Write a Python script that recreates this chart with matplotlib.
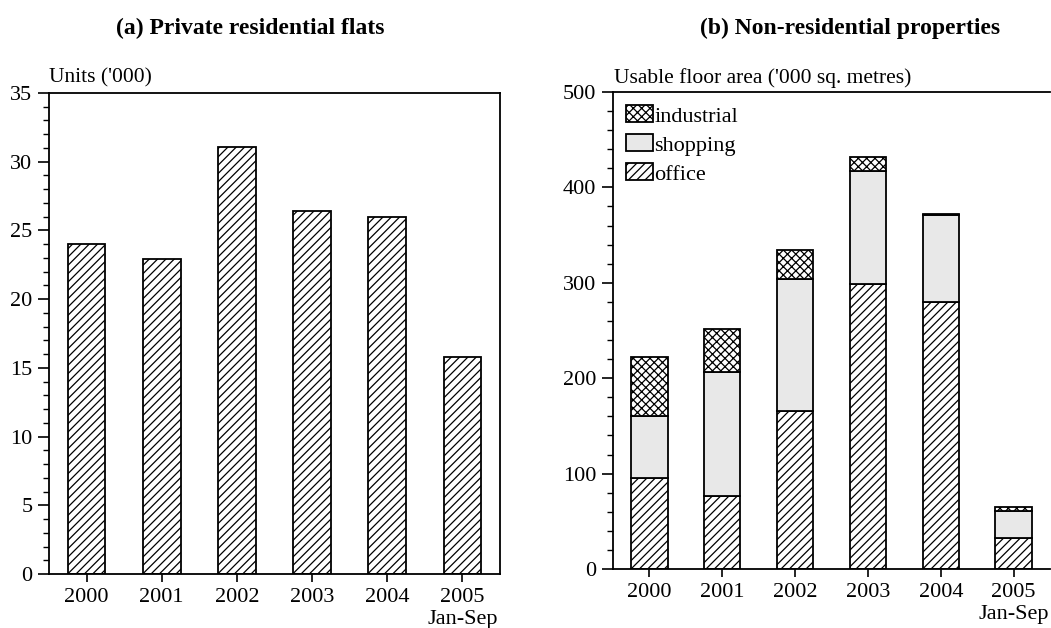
import numpy as np
import matplotlib
matplotlib.use("Agg")
import matplotlib.pyplot as plt
from matplotlib.ticker import MultipleLocator

plt.rcParams["font.family"] = ["Liberation Serif", "DejaVu Serif"]
plt.rcParams["hatch.linewidth"] = 0.9

years = ["2000", "2001", "2002", "2003", "2004", "2005\nJan-Sep"]
flats = [24.0, 22.9, 31.1, 26.4, 26.0, 15.8]
office = [95, 76, 166, 299, 280, 32]
shopping = [65, 131, 138, 118, 91, 29]
industrial = [62, 45, 30, 15, 1, 4]

fig = plt.figure(figsize=(10.51, 6.28), dpi=100)
axA = fig.add_axes([49 / 1051, 1 - 574 / 628, 451 / 1051, 481 / 628])
axB = fig.add_axes([613 / 1051, 1 - 569 / 628, 437 / 1051, 477 / 628])

x = np.arange(len(years))
lw = 1.3

# (a) flats
axA.bar(x, flats, width=0.5, facecolor="white", edgecolor="black",
        hatch="////", linewidth=lw)
axA.set_ylim(0, 35)
axA.yaxis.set_major_locator(MultipleLocator(5))
axA.yaxis.set_minor_locator(MultipleLocator(1))

# (b) non-residential
bottom2 = np.array(office) + np.array(shopping)
b_off = axB.bar(x, office, width=0.5, facecolor="white", edgecolor="black",
                hatch="////", linewidth=lw, label="office")
b_shop = axB.bar(x, shopping, width=0.5, bottom=office, facecolor="#e8e8e8",
                 edgecolor="black", linewidth=lw, label="shopping")
b_ind = axB.bar(x, industrial, width=0.5, bottom=bottom2, facecolor="white",
                edgecolor="black", hatch="xxxx", linewidth=lw, label="industrial")
axB.set_ylim(0, 500)
axB.yaxis.set_major_locator(MultipleLocator(100))
axB.yaxis.set_minor_locator(MultipleLocator(20))

axB.legend([b_ind, b_shop, b_off], ["industrial", "shopping", "office"],
           loc="upper left", frameon=False, fontsize=16,
           handlelength=1.2, handleheight=0.8, handletextpad=0.05,
           labelspacing=0.35, borderaxespad=0.3, borderpad=0.3)

for ax in (axA, axB):
    ax.set_xlim(-0.5, 5.5)
    ax.set_xticks(x)
    ax.set_xticklabels(years, fontsize=16, linespacing=1.2)
    ax.tick_params(axis="y", which="major", direction="out", length=8,
                   width=1.2, labelsize=16, pad=4)
    ax.tick_params(axis="y", which="minor", direction="out", length=4, width=1.0)
    ax.tick_params(axis="x", direction="out", length=6, width=1.2, pad=4)
    for s in ax.spines.values():
        s.set_linewidth(1.3)

axB.spines["right"].set_visible(False)

fig.text(49 / 1051, 1 - 78 / 628, "Units ('000)", fontsize=15.5, va="center", ha="left")
fig.text(614 / 1051, 1 - 78 / 628, "Usable floor area ('000 sq. metres)",
         fontsize=15.5, va="center", ha="left")

fig.text(250 / 1051, 1 - 28 / 628, "(a) Private residential flats",
         fontsize=17, fontweight="bold", ha="center", va="center")
fig.text(850 / 1051, 1 - 28 / 628, "(b) Non-residential properties",
         fontsize=17, fontweight="bold", ha="center", va="center")

fig.savefig("out.png", dpi=100)
